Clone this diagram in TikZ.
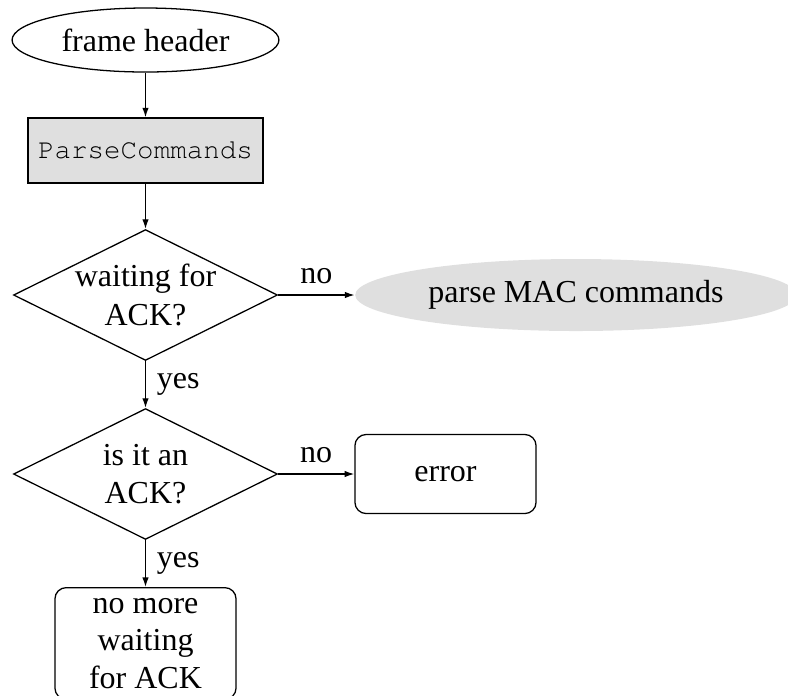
\documentclass[tikz,border=0pt]{standalone}
\usepackage{fontspec}
\setmainfont{Liberation Serif}
\setmonofont{TeX Gyre Cursor}[Scale=0.86]
\usetikzlibrary{shapes.geometric,arrows.meta}
\begin{document}
\begin{tikzpicture}[x=0.3125pt,y=-0.3125pt,
  term/.style={ellipse, draw, line width=0.4pt, inner sep=0pt, minimum width=83.4pt, minimum height=20pt},
  proc/.style={rectangle, draw, fill=gray!25, inner sep=0pt, minimum width=73.4pt, minimum height=20.3pt, font=\ttfamily},
  decision/.style={diamond, draw, inner sep=0pt, minimum width=82.5pt, minimum height=40.9pt},
  dtext/.style={align=center, inner sep=0pt},
  act/.style={ellipse, fill=gray!25, inner sep=0pt, minimum width=138pt, minimum height=22.5pt},
  block/.style={rectangle, draw, rounded corners=3.5pt, minimum width=56.6pt, minimum height=24.7pt, align=center},
  arr/.style={-{Latex[length=3pt,width=2pt]}},
]
\path[use as bounding box, clip] (0,0) rectangle (788,695);
\node[term] (fh) at (145.5,40) {frame header};
\node[proc] (pc) at (145.5,150.5) {ParseCommands};
\node[decision] (d1) at (145.5,295) {};
\node[dtext] (d1t) at (d1.center) {waiting for\\ACK?};
\node[act] (pm) at (576,295) {parse MAC commands};
\node[decision] (d2) at (145.5,474) {};
\node[dtext] (d2t) at (d2.center) {is it an\\ACK?};
\node[block] (err) at (445.5,474) {error};
\node[block, anchor=north, font=\fontsize{10}{11.7}\selectfont] (nm) at (145.5,587) {no more\\waiting\\for ACK};
\draw[arr] (fh.south) -- (pc.north);
\draw[arr] (pc.south) -- (d1.north);
\draw[arr] (d1.east) -- node[above] (no1) {no} (pm.west);
\draw[arr] (d1.south) -- node[right] (yes1) {yes} (d2.north);
\draw[arr] (d2.east) -- node[above] (no2) {no} (err.west);
\draw[arr] (d2.south) -- node[right] (yes2) {yes} (nm.north);
\end{tikzpicture}
\end{document}
